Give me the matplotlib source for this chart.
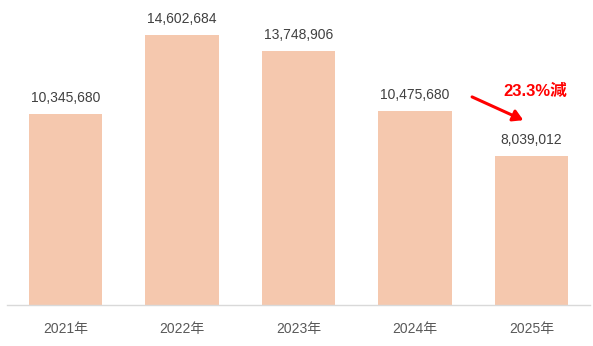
import matplotlib
matplotlib.use("Agg")
import matplotlib.pyplot as plt

categories = ["2021年", "2022年", "2023年", "2024年", "2025年"]
values = [10345680, 14602684, 13748906, 10475680, 8039012]
annotation_text = "23.3%減"

plt.rcParams['font.family'] = ['Liberation Sans', 'Noto Sans CJK JP']

fig = plt.figure(figsize=(5.93, 3.46), dpi=100)
ax = fig.add_axes([7.25/593, 1-305/346, (589.75-7.25)/593, 305/346])

x = range(len(categories))
bars = ax.bar(x, values, width=0.63, color="#F5C8AE")
ax.set_xlim(-0.5, len(categories)-0.5)
ax.set_ylim(0, 305/18.48*1e6)

for xi, v in zip(x, values):
    ax.annotate(f"{v:,}", (xi, v), xytext=(0, 6.5), textcoords="offset points",
                ha="center", va="bottom", fontsize=10, color="#404040")

ax.set_xticks(list(x))
ax.set_xticklabels(categories, fontsize=10, color="#595959")
ax.tick_params(axis="x", length=0, pad=12)
ax.set_yticks([])
for s in ["top", "right", "left"]:
    ax.spines[s].set_visible(False)
ax.spines["bottom"].set_color("#D9D9D9")
ax.spines["bottom"].set_linewidth(1)

# annotation arrow and text
ax.annotate("", xy=(3.93, 10.0e6), xytext=(3.49, 11.26e6),
            arrowprops=dict(arrowstyle="-|>,head_length=0.6,head_width=0.35",
                            color="#FF0000", lw=2.2, shrinkA=0, shrinkB=0))
ax.text(4.03, 11.58e6, annotation_text, ha="center", va="center",
        fontsize=12, fontweight="bold", color="#FF0000")

fig.savefig("out.png", dpi=100)
